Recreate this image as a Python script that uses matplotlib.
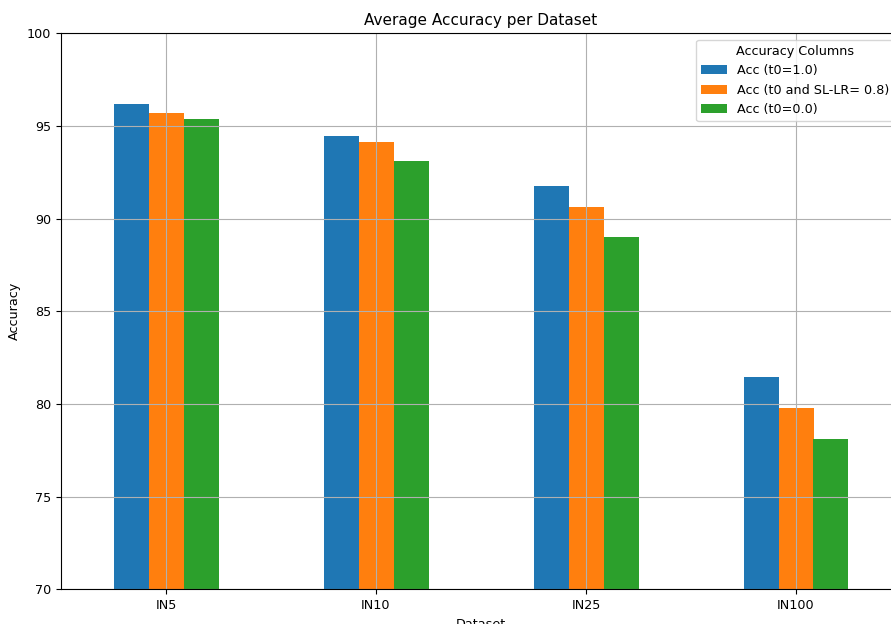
import numpy as np
import matplotlib.pyplot as plt

datasets = ['IN5', 'IN10', 'IN25', 'IN100']
acc_t0_1 = [96.18, 94.48, 91.76, 81.48]
acc_t0_sl = [95.70, 94.14, 90.63, 79.78]
acc_t0_0 = [95.36, 93.11, 89.02, 78.10]
series_names = ['Acc (t0=1.0)', 'Acc (t0 and SL-LR= 0.8)', 'Acc (t0=0.0)']

series = [acc_t0_1, acc_t0_sl, acc_t0_0]
colors = ['#1f77b4', '#ff7f0e', '#2ca02c']

plt.rcParams['font.size'] = 9.2

fig = plt.figure(figsize=(8.91, 6.24), dpi=100)
# axes runs a little past the right edge of the figure
ax = fig.add_axes([61 / 891, (624 - 589.3) / 624, (901 - 61) / 891, (589.3 - 33.3) / 624])

x = np.arange(len(datasets))
width = 0.5 / len(series)
for i, (vals, name) in enumerate(zip(series, series_names)):
    ax.bar(x + (i - 1) * width, vals, width, label=name, color=colors[i])

ax.set_xticks(x)
ax.set_xticklabels(datasets, rotation=0)
ax.set_xlim(-0.5, len(datasets) - 0.5)
ax.set_ylim(70, 100)
ax.set_xlabel('Dataset')
ax.set_ylabel('Accuracy')
ax.set_title('Average Accuracy per Dataset', fontsize=11)
ax.legend(title='Accuracy Columns', loc='upper right')
ax.grid(True)

fig.savefig('out.png', dpi=100)
